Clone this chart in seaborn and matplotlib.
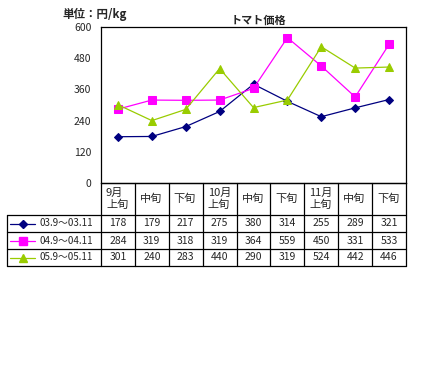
import matplotlib
matplotlib.use("Agg")
import matplotlib.pyplot as plt
import seaborn as sns
import pandas as pd

# data
periods = ["9月\n上旬", "中旬", "下旬", "10月\n上旬", "中旬", "下旬", "11月\n上旬", "中旬", "下旬"]
series_names = ["03.9～03.11", "04.9～04.11", "05.9～05.11"]
price_03 = [178, 179, 217, 275, 380, 314, 255, 289, 321]
price_04 = [284, 319, 318, 319, 364, 559, 450, 331, 533]
price_05 = [301, 240, 283, 440, 290, 319, 524, 442, 446]
y_ticks = [0, 120, 240, 360, 480, 600]

colors = ["#000080", "#FF00FF", "#99CC00"]
markers = ["D", "s", "^"]
msizes = [4.5, 5.5, 6]

sns.set_style("white")
plt.rcParams["font.family"] = ["Noto Sans CJK JP", "DejaVu Sans"]

W, H = 426, 368
fig = plt.figure(figsize=(W / 100, H / 100), dpi=100)

# plot area in pixels
left, top, right, bottom = 101, 27, 406, 183
ax = fig.add_axes([left / W, 1 - bottom / H, (right - left) / W, (bottom - top) / H])

all_series = [price_03, price_04, price_05]
for name, vals, c, m, ms in zip(series_names, all_series, colors, markers, msizes):
    df = pd.DataFrame({"x": range(len(vals)), "y": vals})
    sns.lineplot(data=df, x="x", y="y", ax=ax, color=c, marker=m, markersize=ms,
                 markeredgecolor=c, linewidth=0.9)

ax.set_xlim(-0.5, len(periods) - 0.5)
ax.set_ylim(0, 600)
ax.set_yticks(y_ticks)
ax.set_yticklabels([str(v) for v in y_ticks], fontsize=7.5)
ax.set_xticks([])
ax.set_xlabel("")
ax.set_ylabel("")
ax.tick_params(axis="y", length=0, pad=7)
for s in ax.spines.values():
    s.set_color("black")
    s.set_linewidth(0.9)

# overlay axes in pixel coordinates for titles and the data table
ov = fig.add_axes([0, 0, 1, 1], facecolor="none")
ov.set_xlim(0, W)
ov.set_ylim(H, 0)
ov.axis("off")

ov.text(258, 20, "トマト価格", ha="center", va="center", fontsize=8, fontweight="bold")
ov.text(62, 14, "単位：円/kg", ha="left", va="center", fontsize=8.3, fontweight="bold")

tbl_left = 7
col_w = (right - left) / len(periods)
head_bot = 215
row_lines = [232, 249, 266]
lw = 0.9

# table grid
for i in range(len(periods) + 1):
    xx = left + i * col_w
    ov.plot([xx, xx], [bottom, row_lines[-1]], color="black", lw=lw)
ov.plot([tbl_left, tbl_left], [head_bot, row_lines[-1]], color="black", lw=lw)
ov.plot([left, right], [bottom, bottom], color="black", lw=lw)
for yy in [head_bot] + row_lines:
    ov.plot([tbl_left, right], [yy, yy], color="black", lw=lw)

# header labels
for i, lab in enumerate(periods):
    ov.text(left + i * col_w + 5, (bottom + head_bot) / 2, lab, ha="left", va="center",
            fontsize=8, linespacing=1.25)

row_tops = [head_bot] + row_lines[:-1]
for r, (name, vals, c, m, ms) in enumerate(zip(series_names, all_series, colors, markers, msizes)):
    cy = (row_tops[r] + row_lines[r]) / 2
    ov.plot([tbl_left + 3, tbl_left + 28], [cy, cy], color=c, lw=0.9)
    ov.plot([tbl_left + 15.5], [cy], marker=m, color=c, markersize=ms, markeredgecolor=c)
    ov.text(tbl_left + 32, cy, name, ha="left", va="center", fontsize=7)
    for i, v in enumerate(vals):
        ov.text(left + (i + 0.5) * col_w, cy, str(v), ha="center", va="center", fontsize=7.5)

fig.savefig("out.png", dpi=100)
